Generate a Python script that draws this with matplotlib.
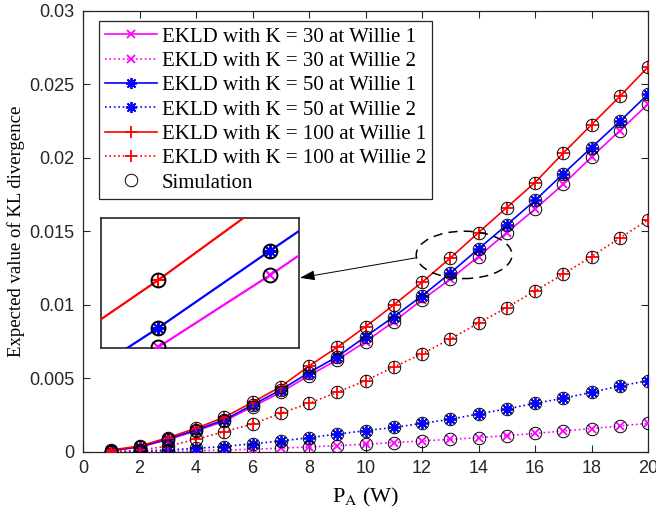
import numpy as np
import matplotlib
matplotlib.use("Agg")
import matplotlib.pyplot as plt
from matplotlib.patches import Ellipse

# ---------------- data ----------------
p_a = [1, 2, 3, 4, 5, 6, 7, 8, 9, 10, 11, 12, 13, 14, 15, 16, 17, 18, 19, 20]
k30_w1 = [0.0001, 0.00033, 0.00084, 0.00143, 0.00209, 0.00308, 0.00405, 0.0052, 0.00626, 0.0075,
          0.00886, 0.01034, 0.01175, 0.01329, 0.01492, 0.01651, 0.0182, 0.02005, 0.02184, 0.02365]
k30_w2 = [0.0, 0.00002, 0.00004, 0.00008, 0.00013, 0.00019, 0.00026, 0.00034, 0.00043, 0.00053,
          0.00064, 0.00075, 0.00086, 0.00098, 0.00111, 0.00126, 0.00143, 0.00159, 0.00177, 0.00195]
k50_w1 = [0.0001, 0.00035, 0.00088, 0.0015, 0.00218, 0.0032, 0.00422, 0.0054, 0.00648, 0.00784,
          0.0092, 0.01061, 0.01216, 0.01381, 0.01544, 0.0171, 0.01891, 0.0207, 0.02247, 0.02433]
k50_w2 = [0.00001, 0.00005, 0.00014, 0.00025, 0.00037, 0.00056, 0.00075, 0.00097, 0.00122, 0.00145,
          0.00167, 0.00195, 0.00222, 0.00259, 0.00293, 0.00331, 0.00365, 0.00406, 0.00449, 0.00485]
k100_w1 = [0.00014, 0.0004, 0.00097, 0.00161, 0.00236, 0.00338, 0.00444, 0.00585, 0.00712, 0.00852,
           0.0100, 0.01154, 0.01318, 0.01492, 0.01662, 0.01832, 0.02032, 0.02225, 0.02417, 0.02617]
k100_w2 = [0.00003, 0.00012, 0.0004, 0.00086, 0.00138, 0.0019, 0.00263, 0.00331, 0.00406, 0.00485,
           0.00578, 0.00667, 0.00768, 0.00876, 0.00982, 0.01095, 0.01209, 0.01329, 0.01454, 0.01578]
# simulation results coincide with the analytical curves
sim_series = [k30_w1, k30_w2, k50_w1, k50_w2, k100_w1, k100_w2]

labels = ["EKLD with K = 30 at Willie 1", "EKLD with K = 30 at Willie 2",
          "EKLD with K = 50 at Willie 1", "EKLD with K = 50 at Willie 2",
          "EKLD with K = 100 at Willie 1", "EKLD with K = 100 at Willie 2"]
sim_label = "Simulation"
xticks = [0, 2, 4, 6, 8, 10, 12, 14, 16, 18, 20]
yticks = [0, 0.005, 0.01, 0.015, 0.02, 0.025, 0.03]
ytick_labels = ["0", "0.005", "0.01", "0.015", "0.02", "0.025", "0.03"]

series = [k30_w1, k30_w2, k50_w1, k50_w2, k100_w1, k100_w2]
colors = ["#FF00FF", "#FF00FF", "#0000FF", "#0000FF", "#FF0000", "#FF0000"]
styles = ["-", ":", "-", ":", "-", ":"]
markers = ["x", "x", (8, 2, 0), (8, 2, 0), "+", "+"]
msizes = [6, 6, 8, 8, 9, 9]

plt.rcParams["mathtext.fontset"] = "stix"
serif = "Liberation Serif"
sans = "Liberation Sans"
frame_c = "#262626"

fig = plt.figure(figsize=(6.56, 5.16), dpi=100)
ax = fig.add_axes([83 / 656, 1 - 452 / 516, 565 / 656, 441.3 / 516])

for y, c, ls, m, ms, lab in zip(series, colors, styles, markers, msizes, labels):
    ax.plot(p_a, y, color=c, ls=ls, lw=1.2, marker=m, ms=ms, mew=1.3, label=lab, zorder=3)
for i, y in enumerate(sim_series):
    ax.plot(p_a, y, ls="none", marker="o", ms=9, mfc="none", mec="k", mew=0.7,
            label=sim_label if i == 0 else None, zorder=4)

ax.set_xlim(0, 20)
ax.set_ylim(0, 0.03)
ax.set_xticks(xticks)
ax.set_yticks(yticks)
ax.set_yticklabels(ytick_labels)
ax.tick_params(direction="in", length=5, width=0.8, top=True, right=True,
               labelsize=13, colors=frame_c, pad=6)
for lab in ax.get_xticklabels() + ax.get_yticklabels():
    lab.set_fontfamily(sans)
for s in ax.spines.values():
    s.set_color(frame_c)
    s.set_linewidth(0.9)

ax.set_xlabel(r"P$_{\mathrm{A}}$ (W)", fontfamily=serif, fontsize=16, labelpad=6)
ax.set_ylabel("Expected value of KL divergence", fontfamily=serif, fontsize=13.5, labelpad=3)

leg = ax.legend(loc="upper left", bbox_to_anchor=(16 / 565, 1 - 10 / 441.3),
                prop={"family": serif, "size": 15}, numpoints=1, handlelength=2.5,
                handletextpad=0.2, borderpad=0.3, labelspacing=0.23, borderaxespad=0,
                fancybox=False, framealpha=1, edgecolor=frame_c)
leg.get_frame().set_linewidth(0.9)

# ellipse highlighting the zoomed region
ell = Ellipse((13.49, 0.0134), 3.39, 0.00322, fill=False, ls=(0, (6, 4)), lw=1.1,
              color="k", zorder=5)
ax.add_patch(ell)
ax.annotate("", xy=(7.68, 0.01184), xytext=(11.79, 0.0132),
            arrowprops=dict(arrowstyle="-|>,head_length=0.9,head_width=0.3",
                            color="k", lw=0.7, shrinkA=0, shrinkB=0), zorder=6)

# inset
axin = fig.add_axes([100.7 / 656, 1 - 348.3 / 516, 198.6 / 656, 130 / 516])
for idx in [0, 2, 4]:
    axin.plot(p_a, series[idx], color=colors[idx], ls="-", lw=1.6, marker=markers[idx],
              ms=msizes[idx] + 1, mew=1.5, zorder=3)
    axin.plot(p_a, sim_series[idx], ls="none", marker="o", ms=10, mfc="none", mec="k",
              mew=1.4, zorder=4)
axin.set_xlim(12.49, 14.26)
axin.set_ylim(0.01173, 0.0145)
axin.set_xticks([])
axin.set_yticks([])
for s in axin.spines.values():
    s.set_color(frame_c)
    s.set_linewidth(1.2)

fig.savefig("out.png", dpi=100)
